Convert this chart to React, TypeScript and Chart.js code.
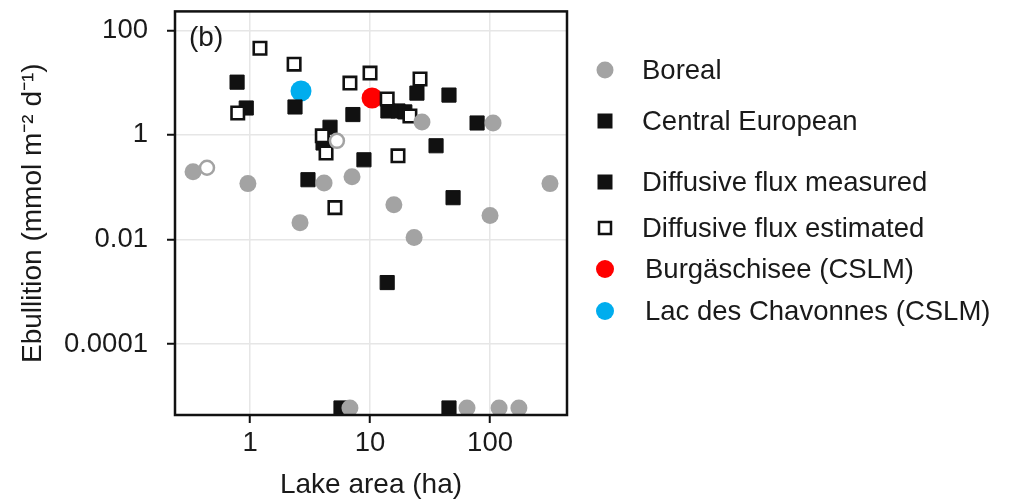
import React, { useEffect, useRef } from 'react';
import { Chart, registerables } from 'chart.js';

Chart.register(...registerables);

// Value used for lakes with no detected ebullition (plotted on the bottom axis)
const BELOW = 6e-6;

const borealArea = [0.335, 0.96, 4.14, 7.08, 2.61, 15.8, 23.3, 100, 316, 27.1, 106, 6.8, 64.3, 119, 174];
const borealEbullition = [0.197, 0.117, 0.12, 0.158, 0.021, 0.046, 0.0109, 0.0287, 0.117, 1.77, 1.69, BELOW, BELOW, BELOW, BELOW];

const borealEstArea = [0.438, 5.3];
const borealEstEbullition = [0.235, 0.77];

const ceEstimatedArea = [1.21, 2.33, 0.79, 10, 6.8, 13.9, 26.1, 21.5, 17.1, 5.1, 4.0, 4.3];
const ceEstimatedEbullition = [45.4, 22.5, 2.62, 15.2, 9.8, 4.85, 11.7, 2.3, 0.398, 0.0407, 0.96, 0.45];

const ceMeasuredArea = [0.78, 0.93, 2.37, 7.2, 4.64, 4.06, 8.9, 14.1, 17.1, 19.5, 24.6, 45.5, 78, 35.5, 3.04, 49.2, 13.9, 5.73, 45.5];
const ceMeasuredEbullition = [10.2, 3.27, 3.42, 2.45, 1.4, 0.7, 0.334, 2.87, 2.87, 2.75, 6.3, 5.78, 1.69, 0.62, 0.139, 0.063, 0.0015, BELOW, BELOW];

const burgArea = [10.4];
const burgEbullition = [5.07];

const chavArea = [2.66];
const chavEbullition = [6.9];

const xTickValues = [1, 10, 100];
const yTickValues = [0.0001, 0.01, 1, 100];

const xTitle = 'Lake area (ha)';
const yTitle = 'Ebullition (mmol m\u207B\u00B2 d\u207B\u00B9)';
const panelLabel = '(b)';

const legendLabels = [
  'Boreal',
  'Central European',
  'Diffusive flux measured',
  'Diffusive flux estimated',
  'Burgäschisee (CSLM)',
  'Lac des Chavonnes (CSLM)',
];

const GRAY = '#a3a3a3';
const BLACK = '#111111';
const RED = '#ff0000';
const BLUE = '#00adee';
const TEXT = '#1a1a1a';
const FONT = '"Liberation Sans", Arial, Helvetica, sans-serif';

const toPoints = (xs: number[], ys: number[]) => xs.map((x, i) => ({ x, y: ys[i] }));

export default function App() {
  const ref = useRef<HTMLCanvasElement | null>(null);

  useEffect(() => {
    document.body.style.margin = '0';
    const canvas = ref.current;
    if (!canvas) return;

    const legendRows = [
      { y: 70, type: 'circle', fill: GRAY, stroke: GRAY, r: 8.5, tx: 642 },
      { y: 121, type: 'square', fill: BLACK, stroke: BLACK, r: 7.5, tx: 642 },
      { y: 182, type: 'square', fill: BLACK, stroke: BLACK, r: 7.5, tx: 642 },
      { y: 228, type: 'open', fill: '#fff', stroke: BLACK, r: 6, tx: 642 },
      { y: 269, type: 'circle', fill: RED, stroke: RED, r: 9, tx: 645 },
      { y: 311, type: 'circle', fill: BLUE, stroke: BLUE, r: 9, tx: 645 },
    ];

    const decor = {
      id: 'decor',
      afterDraw(chart: any) {
        const { ctx, chartArea } = chart;
        ctx.save();
        ctx.strokeStyle = BLACK;
        ctx.lineWidth = 2.5;
        ctx.strokeRect(chartArea.left, chartArea.top, chartArea.right - chartArea.left, chartArea.bottom - chartArea.top);
        ctx.fillStyle = TEXT;
        ctx.font = `28px ${FONT}`;
        ctx.textAlign = 'left';
        ctx.textBaseline = 'middle';
        ctx.fillText(panelLabel, chartArea.left + 14, chartArea.top + 27);

        legendRows.forEach((row, i) => {
          const mx = 605;
          ctx.beginPath();
          if (row.type === 'circle') {
            ctx.arc(mx, row.y, row.r, 0, Math.PI * 2);
            ctx.fillStyle = row.fill;
            ctx.fill();
          } else if (row.type === 'square') {
            ctx.rect(mx - row.r, row.y - row.r, row.r * 2, row.r * 2);
            ctx.fillStyle = row.fill;
            ctx.fill();
          } else {
            ctx.rect(mx - row.r, row.y - row.r, row.r * 2, row.r * 2);
            ctx.fillStyle = row.fill;
            ctx.fill();
            ctx.lineWidth = 2.5;
            ctx.strokeStyle = row.stroke;
            ctx.stroke();
          }
          ctx.fillStyle = TEXT;
          ctx.font = `27.5px ${FONT}`;
          ctx.textAlign = 'left';
          ctx.textBaseline = 'middle';
          ctx.fillText(legendLabels[i], row.tx, row.y + 1);
        });
        ctx.restore();
      },
    };

    const tickFont = { family: FONT, size: 27.5 };
    const titleFont = { family: FONT, size: 28 };

    const chart = new Chart(canvas, {
      type: 'scatter',
      data: {
        datasets: [
          {
            label: legendLabels[0],
            data: toPoints(borealArea, borealEbullition),
            pointStyle: 'circle',
            pointRadius: 8.5,
            backgroundColor: GRAY,
            borderColor: GRAY,
            borderWidth: 0,
          },
          {
            label: 'Boreal (estimated diffusive flux)',
            data: toPoints(borealEstArea, borealEstEbullition),
            pointStyle: 'circle',
            pointRadius: 7,
            backgroundColor: '#ffffff',
            borderColor: GRAY,
            borderWidth: 2.5,
          },
          {
            label: legendLabels[3],
            data: toPoints(ceEstimatedArea, ceEstimatedEbullition),
            pointStyle: 'rect',
            pointRadius: 8.8,
            backgroundColor: '#ffffff',
            borderColor: BLACK,
            borderWidth: 2.6,
          },
          {
            label: legendLabels[2],
            data: toPoints(ceMeasuredArea, ceMeasuredEbullition),
            pointStyle: 'rect',
            pointRadius: 10,
            backgroundColor: BLACK,
            borderColor: BLACK,
            borderWidth: 1,
          },
          {
            label: legendLabels[4],
            data: toPoints(burgArea, burgEbullition),
            pointStyle: 'circle',
            pointRadius: 10.5,
            backgroundColor: RED,
            borderColor: RED,
            borderWidth: 0,
          },
          {
            label: legendLabels[5],
            data: toPoints(chavArea, chavEbullition),
            pointStyle: 'circle',
            pointRadius: 10.5,
            backgroundColor: BLUE,
            borderColor: BLUE,
            borderWidth: 0,
          },
        ],
      },
      options: {
        responsive: false,
        animation: false,
        devicePixelRatio: 1,
        layout: { padding: { left: 0, top: 10, right: 445, bottom: 0 } },
        plugins: {
          legend: { display: false },
          tooltip: { enabled: false },
        },
        scales: {
          x: {
            type: 'logarithmic',
            min: 0.237,
            max: 438,
            afterBuildTicks: (s: any) => {
              s.ticks = xTickValues.map((v) => ({ value: v }));
            },
            afterFit: (s: any) => {
              s.height = 87;
              s.paddingLeft = 0;
              s.paddingRight = 0;
              s.paddingTop = 0;
              s.paddingBottom = 0;
            },
            ticks: {
              callback: (v: any) => String(v),
              font: tickFont,
              color: TEXT,
              padding: 4,
              autoSkip: false,
              maxRotation: 0,
            },
            grid: {
              color: '#e6e6e6',
              lineWidth: 1.5,
              drawTicks: true,
              tickLength: 8,
              tickWidth: 2,
              tickColor: BLACK,
            },
            border: { display: false },
            title: { display: true, text: xTitle, font: titleFont, color: TEXT, padding: 0 },
          },
          y: {
            type: 'logarithmic',
            min: 4.4e-6,
            max: 230,
            afterBuildTicks: (s: any) => {
              s.ticks = yTickValues.map((v) => ({ value: v }));
            },
            afterFit: (s: any) => {
              s.width = 175;
              s.paddingLeft = 0;
              s.paddingRight = 0;
              s.paddingTop = 0;
              s.paddingBottom = 0;
            },
            ticks: {
              callback: (v: any) => String(v),
              font: tickFont,
              color: TEXT,
              padding: 19,
              autoSkip: false,
            },
            grid: {
              color: '#e6e6e6',
              lineWidth: 1.5,
              drawTicks: true,
              tickLength: 8,
              tickWidth: 2,
              tickColor: BLACK,
            },
            border: { display: false },
            title: { display: true, text: yTitle, font: titleFont, color: TEXT, padding: { top: 16, bottom: 0 } },
          },
        },
      },
      plugins: [decor],
    } as any);

    return () => chart.destroy();
  }, []);

  return (
    <div style={{ width: 1012, height: 502 }}>
      <canvas ref={ref} width={1012} height={502} style={{ display: 'block' }} />
    </div>
  );
}
